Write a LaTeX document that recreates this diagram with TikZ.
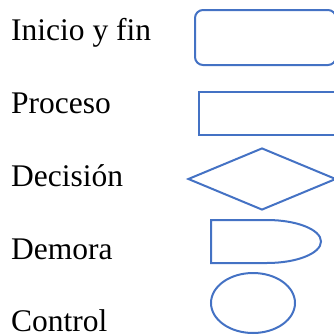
\documentclass[tikz,border=0pt]{standalone}
\usepackage{fontspec}
\setmainfont{Liberation Serif}
\usetikzlibrary{shapes.geometric}
\definecolor{figblue}{RGB}{68,114,196}
\tikzset{
  label/.style={
    anchor=base west,
    inner sep=0pt,
    font=\fontsize{31.5}{36}\selectfont
  },
  figure/.style={
    draw=figblue, line width=2pt,
    inner sep=0pt
  },
}

\begin{document}
\begin{tikzpicture}[x=1pt,y=-1pt]
      \useasboundingbox (0,0) rectangle (333,335);

      \node[label] (l1) at (11,40) {Inicio y fin};
      \node[label] (l2) at (11,113) {Proceso};
      \node[label] (l3) at (11,186) {Decisión};
      \node[label] (l4) at (11,259) {Demora};
      \node[label] (l5) at (11,331) {Control};

      \node[figure, rectangle, rounded corners=8pt,
        minimum width=141pt, minimum height=55pt] (inicio) at (265.5,37.5) {};
      \node[figure, rectangle,
        minimum width=137pt, minimum height=43pt] (proceso) at (267.5,113.5) {};
      \node[figure, diamond,
        minimum width=148pt, minimum height=62pt] (decision) at (262,179) {};
      \node[figure, ellipse,
        minimum width=84pt, minimum height=60pt] (control) at (253,303) {};

      % demora: flat left side, round right end
      \draw[figure] (267,220) -- (211,220) -- (211,263) -- (267,263)
        arc[start angle=-90, end angle=90, x radius=54, y radius=-21.5];
    \end{tikzpicture}
\end{document}
